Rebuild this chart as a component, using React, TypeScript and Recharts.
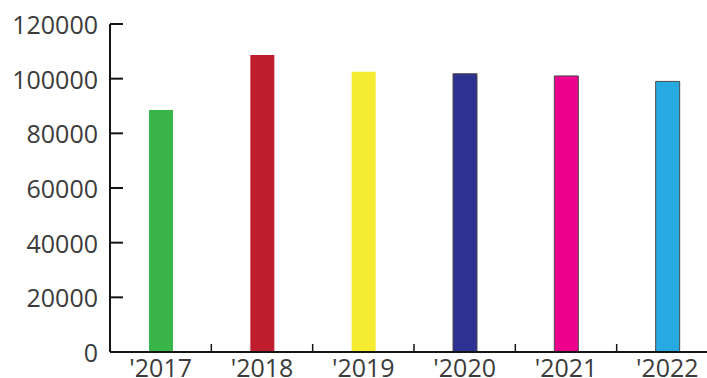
import { BarChart, Bar, XAxis, YAxis, Cell } from 'recharts'

const years = ["'2017", "'2018", "'2019", "'2020", "'2021", "'2022"]
const totals = [88500, 108700, 102500, 101800, 101000, 99000]
const barColors = ['#39b54a', '#be1e2d', '#f5ec31', '#2e3192', '#ec008c', '#27aae1']
const barOutlines = ['none', 'none', 'none', '#4a4a4a', '#4a4a4a', '#4a4a4a']
const yTicks = [0, 20000, 40000, 60000, 80000, 100000, 120000]

const data = years.map((year, i) => ({ year, total: totals[i] }))

const FONT = '"Open Sans", "Noto Sans", sans-serif'
const TEXT = '#3b3b3b'
const AXIS = '#151515'
// the plot runs a little past the visible frame on the right
const CHART_W = 718
const FRAME_W = 707
const FRAME_H = 378
const X_MARGIN = 7

function YTick({ x, y, payload }: any) {
  return (
    <g>
      <text x={x} y={y} textAnchor="end" dominantBaseline="central"
        fontFamily={FONT} fontSize={25} fill={TEXT}>
        {payload.value}
      </text>
      <line x1={x + 12} x2={x + 25} y1={y} y2={y} stroke={AXIS} strokeWidth={2} />
    </g>
  )
}

// year label, plus a short upward tick on the right edge of its band
function XTick({ x, y, payload, index, width }: any) {
  const half = payload.offset || width / years.length / 2
  const axisY = y - X_MARGIN
  return (
    <g>
      <text x={x} y={y} dy="0.71em" textAnchor="middle"
        fontFamily={FONT} fontSize={25} fill={TEXT}>
        {payload.value}
      </text>
      {index < years.length - 1 && (
        <line x1={x + half} x2={x + half} y1={axisY} y2={axisY - 8}
          stroke={AXIS} strokeWidth={1.5} />
      )}
    </g>
  )
}

export default function App() {
  return (
    <div style={{ position: 'absolute', left: 0, top: 0, width: FRAME_W, height: FRAME_H,
      overflow: 'hidden', background: '#fff' }}>
      <BarChart width={CHART_W} height={FRAME_H} data={data}
        margin={{ top: 24, right: 0, left: 0, bottom: 0 }}>
        <XAxis dataKey="year" height={26}
          tickLine={false} tickSize={0} tickMargin={X_MARGIN} interval={0}
          axisLine={{ stroke: AXIS, strokeWidth: 2 }} tick={<XTick />} />
        <YAxis width={110} domain={[0, 120000]} ticks={yTicks} interval={0}
          tickLine={false} tickSize={0} tickMargin={12}
          axisLine={{ stroke: AXIS, strokeWidth: 2 }} tick={<YTick />} />
        <Bar dataKey="total" barSize={24} isAnimationActive={false}>
          {data.map((d, i) => (
            <Cell key={d.year} fill={barColors[i]} stroke={barOutlines[i]} strokeWidth={1} />
          ))}
        </Bar>
      </BarChart>
    </div>
  )
}
